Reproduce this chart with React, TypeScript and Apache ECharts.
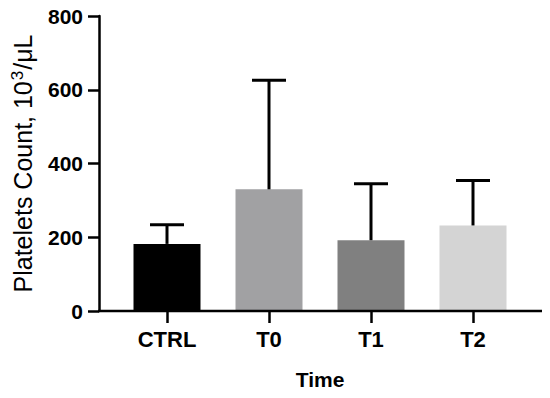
import React, { useEffect, useRef } from "react";
import * as echarts from "echarts";

const categories = ["CTRL", "T0", "T1", "T2"];
const means = [182, 330, 192, 232];
const sds = [52, 296, 153, 122];
const barColors = ["#000000", "#a1a1a3", "#808080", "#d4d4d4"];
const yTicks = [0, 200, 400, 600, 800];

export default function App() {
  const ref = useRef<HTMLDivElement>(null);
  useEffect(() => {
    const chart = echarts.init(ref.current!, null, { renderer: "svg" });
    const font = "Liberation Sans, Arial, Helvetica, sans-serif";
    chart.setOption({
      animation: false,
      grid: { left: 116, right: 26, top: 16, bottom: 87, containLabel: false },
      xAxis: {
        type: "category",
        data: categories,
        name: "Time",
        nameLocation: "middle",
        nameGap: 58,
        nameTextStyle: { fontFamily: font, fontSize: 21, fontWeight: "bold", color: "#000" },
        axisLine: { show: false },
        axisTick: { show: true, alignWithLabel: true, length: 12, lineStyle: { color: "#000", width: 2.5 } },
        axisLabel: { margin: 17, fontFamily: font, fontSize: 22, fontWeight: "bold", color: "#000" },
      },
      yAxis: {
        type: "value",
        min: yTicks[0],
        max: yTicks[yTicks.length - 1],
        interval: 200,
        offset: 17,
        name: "{a|Platelets Count, 10}{s|3}{a|/μL}",
        nameLocation: "middle",
        nameGap: 63,
        nameTextStyle: {
          fontFamily: font,
          fontSize: 25,
          color: "#000",
          rich: {
            a: { fontFamily: font, fontSize: 25, color: "#000" },
            s: { fontFamily: font, fontSize: 17, color: "#000", verticalAlign: "top", padding: [0, 1, 10, 1] },
          },
        },
        axisLine: { show: true, lineStyle: { color: "#000", width: 2.5 } },
        axisTick: { show: true, length: 11, lineStyle: { color: "#000", width: 2.5 } },
        axisLabel: { margin: 16, fontFamily: font, fontSize: 21, fontWeight: "bold", color: "#000" },
        splitLine: { show: false },
      },
      graphic: [
        {
          type: "line",
          shape: { x1: 98, y1: 311, x2: 542, y2: 311 },
          style: { stroke: "#000", lineWidth: 2.5 },
          z: 100,
        },
      ],
      series: [
        {
          type: "bar",
          barWidth: 67,
          data: means.map((v, i) => ({ value: v, itemStyle: { color: barColors[i] } })),
          z: 2,
        },
        {
          type: "custom",
          z: 3,
          data: means.map((m, i) => [i, m, m + sds[i]]),
          renderItem: (params: any, api: any) => {
            const x = api.value(0);
            const lo = api.coord([x, api.value(1)]);
            const hi = api.coord([x, api.value(2)]);
            const half = 17;
            const st = { stroke: "#000", lineWidth: 3 };
            return {
              type: "group",
              children: [
                { type: "line", shape: { x1: lo[0], y1: lo[1], x2: hi[0], y2: hi[1] }, style: st },
                { type: "line", shape: { x1: hi[0] - half, y1: hi[1], x2: hi[0] + half, y2: hi[1] }, style: st },
              ],
            };
          },
        },
      ],
    });
    return () => chart.dispose();
  }, []);
  return <div ref={ref} style={{ position: "absolute", left: 0, top: 0, width: 550, height: 398 }} />;
}
